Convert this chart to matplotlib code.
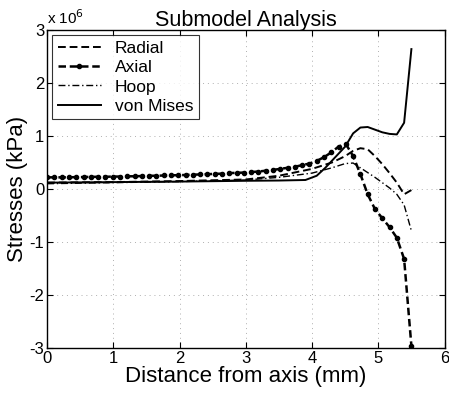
import matplotlib
matplotlib.use("Agg")
import matplotlib.pyplot as plt

plt.rcParams['font.family'] = ['Liberation Sans', 'DejaVu Sans']

# Distance from axis (mm)
x = [0.00, 0.11, 0.22, 0.33, 0.44, 0.55, 0.66, 0.77, 0.88, 0.99,
     1.10, 1.21, 1.32, 1.43, 1.54, 1.65, 1.76, 1.87, 1.98, 2.09,
     2.20, 2.31, 2.42, 2.53, 2.64, 2.75, 2.86, 2.97, 3.08, 3.19,
     3.30, 3.41, 3.52, 3.63, 3.74, 3.85, 3.96, 4.07, 4.18, 4.29,
     4.40, 4.51, 4.62, 4.73, 4.84, 4.95, 5.06, 5.17, 5.28, 5.39,
     5.50]

# Stresses in units of 1e6 kPa
axial = [0.22, 0.22, 0.22, 0.22, 0.225, 0.225, 0.23, 0.23, 0.23, 0.235,
         0.235, 0.24, 0.24, 0.245, 0.25, 0.25, 0.255, 0.26, 0.26, 0.265,
         0.27, 0.275, 0.28, 0.285, 0.29, 0.30, 0.305, 0.31, 0.32, 0.33,
         0.345, 0.36, 0.38, 0.40, 0.42, 0.45, 0.48, 0.53, 0.60, 0.69,
         0.80, 0.85, 0.62, 0.28, -0.10, -0.38, -0.55, -0.72, -0.92, -1.32,
         -2.96]

radial_x = [0.0, 1.0, 2.0, 3.0, 3.5, 4.0, 4.3, 4.5, 4.62, 4.73, 4.84,
            4.95, 5.06, 5.17, 5.28, 5.39, 5.50]
radial = [0.12, 0.13, 0.15, 0.18, 0.25, 0.38, 0.50, 0.62, 0.72, 0.77, 0.75,
          0.62, 0.47, 0.30, 0.12, -0.10, -0.02]

hoop_x = [0.0, 1.0, 2.0, 3.0, 3.5, 4.0, 4.3, 4.5, 4.62, 4.73, 4.84,
          4.95, 5.06, 5.17, 5.28, 5.39, 5.50]
hoop = [0.10, 0.12, 0.14, 0.17, 0.22, 0.30, 0.40, 0.48, 0.49, 0.40, 0.31,
        0.22, 0.12, 0.02, -0.10, -0.30, -0.79]

vm_x = [0.0, 1.0, 2.0, 3.0, 3.5, 3.9, 4.07, 4.2, 4.35, 4.5, 4.62, 4.73,
        4.84, 4.95, 5.06, 5.17, 5.28, 5.39, 5.50]
vonmises = [0.12, 0.13, 0.14, 0.155, 0.16, 0.17, 0.25, 0.40, 0.60, 0.80,
            1.05, 1.16, 1.17, 1.12, 1.07, 1.04, 1.03, 1.25, 2.64]

xticks = [0, 1, 2, 3, 4, 5, 6]
yticks = [-3, -2, -1, 0, 1, 2, 3]

fig = plt.figure(figsize=(4.49, 3.95), dpi=100)
ax = fig.add_axes([0.105, 0.119, 0.885, 0.805])

ax.plot(radial_x, radial, color='black', linestyle=(0, (4, 2)), linewidth=1.4, label='Radial')
ax.plot(x, axial, color='black', linestyle=(0, (3, 1.5)), linewidth=1.8,
        marker='o', markersize=3.0, label='Axial')
ax.plot(hoop_x, hoop, color='black', linestyle=(0, (5, 2, 1, 2)), linewidth=1.0, label='Hoop')
ax.plot(vm_x, vonmises, color='black', linestyle='-', linewidth=1.4, label='von Mises')

ax.set_xlim(0, 6)
ax.set_ylim(-3, 3)
ax.set_xticks(xticks)
ax.set_yticks(yticks)
ax.set_xticklabels([str(t) for t in xticks])
ax.set_yticklabels([str(t) for t in yticks])
ax.tick_params(direction='in', top=True, right=True, labelsize=12, length=4, pad=2)
ax.grid(True, color='#b0b0b0', linestyle=(0, (1, 4)), linewidth=0.7)
for s in ax.spines.values():
    s.set_linewidth(1.0)

ax.set_title('Submodel Analysis', fontsize=15.5, pad=3)
ax.set_xlabel('Distance from axis (mm)', fontsize=16, labelpad=0)
ax.set_ylabel('Stresses (kPa)', fontsize=16, labelpad=1)
ax.text(0.0, 1.01, 'x 10$^6$', transform=ax.transAxes, fontsize=11, ha='left', va='bottom')

leg = ax.legend(loc='upper left', fontsize=12.5, frameon=True, fancybox=False,
                handlelength=2.5, borderaxespad=0.3, labelspacing=0.25, borderpad=0.3)
leg.get_frame().set_edgecolor('black')
leg.get_frame().set_linewidth(0.8)

fig.savefig('out.png', dpi=100)
